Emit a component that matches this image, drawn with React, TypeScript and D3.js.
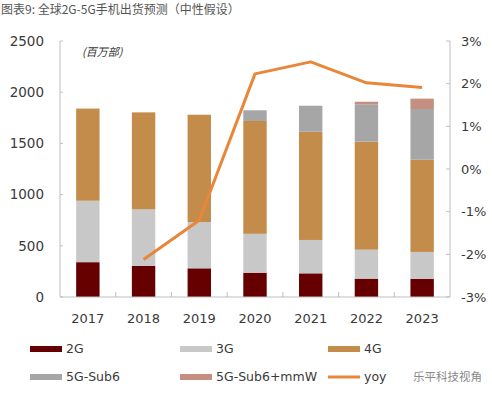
import * as d3 from "d3";
import React from "react";

// chart data (million units / yoy %)
const years = ["2017", "2018", "2019", "2020", "2021", "2022", "2023"];
const seriesNames = ["2G", "3G", "4G", "5G-Sub6", "5G-Sub6+mmW"];
const g2 = [340, 303, 280, 237, 231, 179, 176];
const g3 = [600, 553, 452, 380, 326, 283, 264];
const g4 = [900, 947, 1048, 1102, 1057, 1055, 901];
const sub6 = [0, 0, 0, 104, 254, 365, 495];
const mmw = [0, 0, 0, 0, 0, 25, 101];
const yoy: (number | null)[] = [null, -2.12, -1.2, 2.23, 2.51, 2.02, 1.91];
const leftTicks = [0, 500, 1000, 1500, 2000, 2500];
const rightTicks = [-3, -2, -1, 0, 1, 2, 3];

const colors = ["#660000", "#c8c8c8", "#c38c4b", "#a6a6a6", "#c48f80"];
const lineColor = "#e8873a";
const textColor = "#3a3a3a";
const axisColor = "#bfbfbf";

const W = 492;
const H = 394;
const margin = { top: 41, right: 42, bottom: 97, left: 60 };
const numFont = "'DejaVu Sans', Verdana, sans-serif";
const cjkFont = "'Noto Sans CJK SC', sans-serif";

export default function App() {
  const x = d3
    .scaleBand<string>()
    .domain(years)
    .range([margin.left, W - margin.right])
    .paddingInner(0.58)
    .paddingOuter(0.29);
  const y = d3.scaleLinear().domain([0, 2500]).range([H - margin.bottom, margin.top]);
  const y2 = d3.scaleLinear().domain([-3, 3]).range([H - margin.bottom, margin.top]);

  const rows = years.map((yr, i) => ({
    year: yr,
    "2G": g2[i],
    "3G": g3[i],
    "4G": g4[i],
    "5G-Sub6": sub6[i],
    "5G-Sub6+mmW": mmw[i],
  }));
  const stacked = d3.stack<any>().keys(seriesNames)(rows);

  const line = d3
    .line<number | null>()
    .defined((d) => d != null)
    .x((_, i) => x(years[i])! + x.bandwidth() / 2)
    .y((d) => y2(d as number));

  const x0 = margin.left;
  const x1 = W - margin.right;
  const yBase = H - margin.bottom;
  const step = x.step();

  const legend = [
    { name: "2G", type: "rect", color: colors[0], lx: 30, ly: 349 },
    { name: "3G", type: "rect", color: colors[1], lx: 180, ly: 349 },
    { name: "4G", type: "rect", color: colors[2], lx: 328, ly: 349 },
    { name: "5G-Sub6", type: "rect", color: colors[3], lx: 30, ly: 377 },
    { name: "5G-Sub6+mmW", type: "rect", color: colors[4], lx: 180, ly: 377 },
    { name: "yoy", type: "line", color: lineColor, lx: 328, ly: 377 },
  ];

  return (
    <svg
      width={W}
      height={H}
      style={{ position: "absolute", left: 0, top: 0, background: "#fff" }}
    >
      <text x={1} y={14} fontSize={12} fill="#555" fontFamily={cjkFont}>
        图表9: 全球2G-5G手机出货预测（中性假设）
      </text>

      {/* bars */}
      {stacked.map((s, si) => (
        <g key={s.key} fill={colors[si]}>
          {s.map((d, i) =>
            d[1] - d[0] > 0 ? (
              <rect
                key={i}
                x={x(years[i])}
                width={x.bandwidth()}
                y={y(d[1])}
                height={y(d[0]) - y(d[1])}
              />
            ) : null
          )}
        </g>
      ))}

      {/* left axis */}
      <line x1={x0} x2={x0} y1={margin.top} y2={yBase} stroke={axisColor} />
      {leftTicks.map((t) => (
        <g key={t}>
          <line x1={x0} x2={x0 + 3} y1={y(t)} y2={y(t)} stroke={axisColor} />
          <text
            x={44}
            y={y(t)}
            dy="0.35em"
            textAnchor="end"
            fontSize={13.5}
            fill={textColor}
            fontFamily={numFont}
          >
            {t}
          </text>
        </g>
      ))}

      {/* bottom axis */}
      <line x1={x0} x2={x1} y1={yBase} y2={yBase} stroke={axisColor} />
      {years.slice(1).map((yr) => (
        <line
          key={yr}
          x1={x(yr)! - (step - x.bandwidth()) / 2}
          x2={x(yr)! - (step - x.bandwidth()) / 2}
          y1={yBase}
          y2={yBase - 5}
          stroke={axisColor}
        />
      ))}
      {years.map((yr) => (
        <text
          key={yr}
          x={x(yr)! + x.bandwidth() / 2}
          y={318}
          dy="0.35em"
          textAnchor="middle"
          fontSize={13}
          fill={textColor}
          fontFamily={numFont}
        >
          {yr}
        </text>
      ))}

      {/* right axis */}
      <line x1={x1} x2={x1} y1={margin.top} y2={yBase} stroke={axisColor} />
      {rightTicks.map((t) => (
        <g key={t}>
          <line x1={x1 - 4} x2={x1} y1={y2(t)} y2={y2(t)} stroke={axisColor} />
          <text
            x={461}
            y={y2(t)}
            dy="0.35em"
            textAnchor="start"
            fontSize={13}
            fill={textColor}
            fontFamily={numFont}
          >
            {t}%
          </text>
        </g>
      ))}

      <text
        x={82}
        y={56}
        fontSize={11}
        fontStyle="italic"
        fill="#333"
        fontFamily={cjkFont}
      >
        (百万部)
      </text>

      {/* yoy line */}
      <path
        d={line(yoy) || ""}
        fill="none"
        stroke={lineColor}
        strokeWidth={3}
        strokeLinejoin="round"
      />

      {/* legend */}
      {legend.map((l) => (
        <g key={l.name}>
          {l.type === "rect" ? (
            <rect x={l.lx} y={l.ly - 3} width={32} height={6} fill={l.color} />
          ) : (
            <line
              x1={l.lx}
              x2={l.lx + 32}
              y1={l.ly}
              y2={l.ly}
              stroke={l.color}
              strokeWidth={3}
            />
          )}
          <text
            x={l.lx + 36}
            y={l.ly}
            dy="0.35em"
            fontSize={12.5}
            fill={textColor}
            fontFamily={numFont}
          >
            {l.name}
          </text>
        </g>
      ))}
      <text x={413} y={377} dy="0.35em" fontSize={11.5} fill="#888" fontFamily={cjkFont}>
        乐平科技视角
      </text>
    </svg>
  );
}
